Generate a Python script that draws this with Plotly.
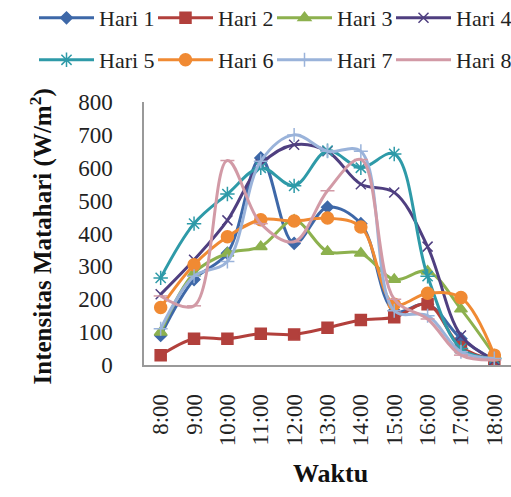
import plotly.graph_objects as go

times = ["8:00", "9:00", "10:00", "11:00", "12:00", "13:00", "14:00", "15:00", "16:00", "17:00", "18:00"]
hari1 = [90, 260, 340, 630, 370, 480, 430, 165, 185, 80, 15]
hari2 = [30, 80, 80, 95, 93, 113, 137, 145, 185, 55, 15]
hari3 = [100, 280, 340, 360, 440, 345, 340, 260, 285, 170, 30]
hari4 = [215, 320, 440, 610, 670, 650, 550, 525, 360, 90, 15]
hari5 = [265, 430, 520, 600, 545, 652, 600, 642, 270, 50, 20]
hari6 = [175, 305, 390, 442, 438, 447, 420, 185, 218, 205, 30]
hari7 = [110, 270, 315, 620, 700, 650, 650, 165, 150, 40, 20]
hari8 = [210, 180, 622, 430, 375, 530, 625, 200, 140, 30, 15]

names = ["Hari 1", "Hari 2", "Hari 3", "Hari 4", "Hari 5", "Hari 6", "Hari 7", "Hari 8"]
series = [hari1, hari2, hari3, hari4, hari5, hari6, hari7, hari8]
colors = ["#3E68A8", "#B2403C", "#8DB14E", "#4F3F80", "#2E9AA8", "#F08A33", "#9AB3DA", "#D29AA6"]
symbols = ["diamond", "square", "triangle-up", "x-thin-open", "asterisk-open", "circle", "cross-thin-open", "line-ew-open"]
sizes = [9, 11, 11, 10, 12, 12, 10, 10]

FONT = "'Liberation Serif', 'Times New Roman', serif"
L, T, PW, PH = 144, 102, 367, 263

x = list(range(len(times)))
fig = go.Figure()
legend_layout = {}
for i, (nm, ys) in enumerate(zip(names, series)):
    key = "legend" if i == 0 else f"legend{i + 1}"
    fig.add_trace(go.Scatter(
        x=x, y=ys, name=nm, mode="lines+markers",
        line=dict(color=colors[i], width=3, shape="spline", smoothing=1.0),
        marker=dict(symbol=symbols[i], size=sizes[i], color=colors[i],
                    line=dict(color=colors[i], width=1.5)),
        legend=key,
    ))
    col, row = i % 4, i // 4
    left_px = 34 + 119 * col
    cy_px = 18 + 42 * row
    legend_layout[key] = dict(
        orientation="h", x=(left_px - L) / PW, xanchor="left",
        y=(T + PH - cy_px) / PH, yanchor="middle",
        itemwidth=55, font=dict(family=FONT, size=22, color="#222"),
        bgcolor="rgba(0,0,0,0)",
    )

fig.update_layout(
    width=511, height=497,
    margin=dict(l=L, r=511 - L - PW, t=T, b=497 - T - PH, autoexpand=False),
    paper_bgcolor="white", plot_bgcolor="white",
    font=dict(family=FONT, color="#222", size=20),
    showlegend=True,
    **legend_layout,
)
fig.update_xaxes(
    range=[-0.5, 10.5], tickvals=x, ticktext=times, tickangle=-90,
    showgrid=False, zeroline=False, showline=True, linecolor="#999", linewidth=1.5,
    ticks="", ticklabelstandoff=18, tickfont=dict(family=FONT, size=23, color="#222"),
)
fig.update_yaxes(
    range=[0, 800], tickvals=list(range(0, 801, 100)),
    showgrid=False, zeroline=False, showline=True, linecolor="#999", linewidth=1.5,
    ticks="", ticklabelstandoff=25, tickfont=dict(family=FONT, size=23, color="#222"),
)
fig.add_annotation(text="<b>Intensitas Matahari (W/m<sup>2</sup>)</b>", xref="paper", yref="paper",
                   x=(22 - L) / PW, y=(T + PH - 237) / PH, textangle=-90, showarrow=False,
                   font=dict(family=FONT, size=25, color="#111"))
fig.add_annotation(text="<b>Waktu</b>", xref="paper", yref="paper",
                   x=(330 - L) / PW, y=(T + PH - 490) / PH, showarrow=False,
                   font=dict(family=FONT, size=26, color="#111"))
fig.write_html("out.html")
